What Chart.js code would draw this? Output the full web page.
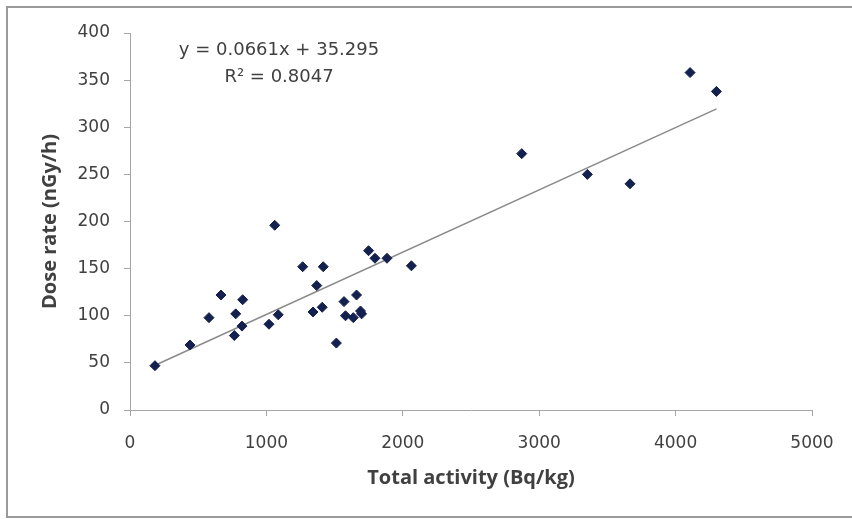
<!DOCTYPE html>
<html>
<head>
<meta charset="utf-8">
<script src="https://cdn.jsdelivr.net/npm/chart.js@4"></script>
<style>
  body { margin: 0; background: #fff; }
  canvas { display: block; }
</style>
</head>
<body>
<canvas id="graficaCanvas" width="852" height="519"></canvas>
<script>
// datos
var actividad = [183, 440, 579, 667, 775, 826, 821, 765, 1019, 1087, 1061, 1266, 1417, 1369, 1342, 1409,
                 1513, 1569, 1661, 1580, 1637, 1690, 1698, 1749, 1796, 1884, 2063, 2872, 3353, 3666, 4106, 4299];
var dosis = [47, 69, 98, 122, 102, 117, 89, 79, 91, 101, 196, 152, 152, 132, 104, 109,
             71, 115, 122, 100, 98, 105, 102, 169, 161, 161, 153, 272, 250, 240, 358, 338];

// extremos de la linea de tendencia
var tendenciaX = [180, 4300];
var tendenciaY = [47.2, 319.5];

var ecuacion = 'y = 0.0661x + 35.295';
var r2 = 'R\u00B2 = 0.8047';

var ticksX = [0, 1000, 2000, 3000, 4000, 5000];
var ticksY = [0, 50, 100, 150, 200, 250, 300, 350, 400];

var tituloX = 'Total activity (Bq/kg)';
var tituloY = 'Dose rate (nGy/h)';

var puntos = [];
for (var i = 0; i < actividad.length; i++) {
    puntos.push({ x: actividad[i], y: dosis[i] });
}
var lineaTendencia = [];
for (var j = 0; j < tendenciaX.length; j++) {
    lineaTendencia.push({ x: tendenciaX[j], y: tendenciaY[j] });
}

var colorTexto = '#404040';
var fuenteTicks = { family: 'DejaVu Sans', size: 17 };
var fuenteTitulo = { family: 'Open Sans', size: 20, weight: 'bold' };

// marco gris y texto de la ecuacion
var marcoYEcuacion = {
    id: 'marcoYEcuacion',
    beforeDraw: function (chart) {
        var ctx = chart.ctx;
        ctx.save();
        ctx.fillStyle = '#fff';
        ctx.fillRect(0, 0, chart.width, chart.height);
        ctx.strokeStyle = '#9a9a9a';
        ctx.lineWidth = 2;
        ctx.strokeRect(7, 7, chart.width + 10, 510);
        ctx.restore();
    },
    afterDraw: function (chart) {
        var ctx = chart.ctx;
        var area = chart.chartArea;
        ctx.save();
        ctx.fillStyle = colorTexto;
        ctx.font = '18px "DejaVu Sans"';
        ctx.textAlign = 'center';
        ctx.textBaseline = 'middle';
        ctx.fillText(ecuacion, area.left + 149, area.top + 17);
        ctx.fillText(r2, area.left + 149, area.top + 44);
        ctx.restore();
    }
};

var ctx = document.getElementById('graficaCanvas').getContext('2d');
var grafica = new Chart(ctx, {
    type: 'scatter',
    data: {
        datasets: [{
            label: 'Datos',
            data: puntos,
            pointStyle: 'rectRot',
            pointRadius: 5,
            backgroundColor: '#14214f',
            borderColor: '#14214f',
            borderWidth: 1
        }, {
            type: 'line',
            label: 'Tendencia',
            data: lineaTendencia,
            borderColor: '#8a8a8a',
            borderWidth: 1.5,
            pointRadius: 0,
            fill: false
        }]
    },
    options: {
        responsive: false,
        animation: false,
        layout: { padding: { top: 33, right: 40, bottom: 0, left: 0 } },
        plugins: {
            legend: { display: false },
            tooltip: { enabled: false }
        },
        scales: {
            x: {
                type: 'linear',
                min: 0,
                max: 5000,
                afterBuildTicks: function (scale) {
                    scale.ticks = ticksX.map(function (v) { return { value: v }; });
                },
                afterFit: function (scale) { scale.height = 109; },
                grid: { drawOnChartArea: false, drawTicks: true, tickLength: 6, color: '#a6a6a6' },
                border: { color: '#a6a6a6', width: 1 },
                ticks: {
                    color: colorTexto, font: fuenteTicks, padding: 17, maxRotation: 0,
                    callback: function (v) { return String(v); }
                },
                title: { display: true, text: tituloX, color: colorTexto, font: fuenteTitulo, padding: { top: 0, bottom: 29 } }
            },
            y: {
                type: 'linear',
                min: 0,
                max: 400,
                afterBuildTicks: function (scale) {
                    scale.ticks = ticksY.map(function (v) { return { value: v }; });
                },
                afterFit: function (scale) { scale.width = 130; },
                grid: { drawOnChartArea: false, drawTicks: true, tickLength: 6, color: '#a6a6a6' },
                border: { color: '#a6a6a6', width: 1 },
                ticks: {
                    color: colorTexto, font: fuenteTicks, padding: 14,
                    callback: function (v) { return String(v); }
                },
                title: { display: true, text: tituloY, color: colorTexto, font: fuenteTitulo, padding: { top: 38, bottom: 0 } }
            }
        }
    },
    plugins: [marcoYEcuacion]
});
</script>
</body>
</html>
